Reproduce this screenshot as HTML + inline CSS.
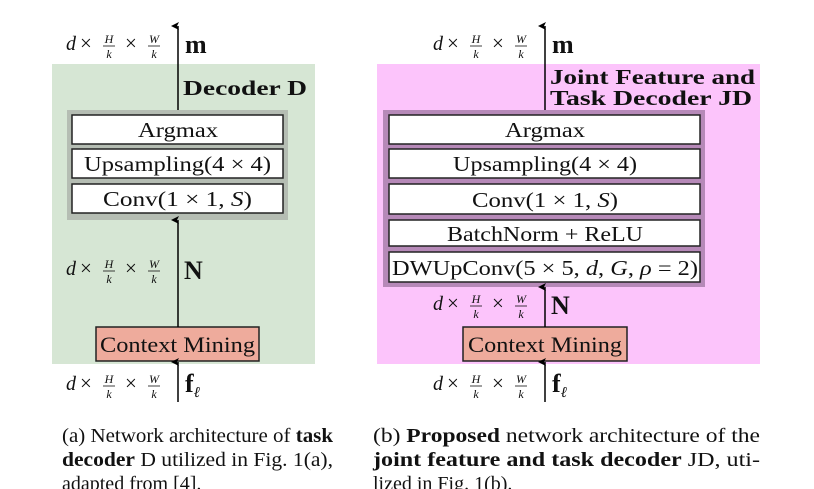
<!DOCTYPE html>
<html><head><meta charset="utf-8"><style>
html,body{margin:0;padding:0;background:#fff;width:814px;height:489px;overflow:hidden}
svg{display:block}
text{font-family:"Liberation Serif",serif;fill:#111}
.b{font-weight:bold}
</style></head><body>
<svg width="814" height="489" viewBox="0 0 814 489">
<defs>
<marker id="ah" markerWidth="8" markerHeight="8" refX="4" refY="7" orient="auto" markerUnits="userSpaceOnUse">
<path d="M0,8 L4,0 L8,8 L4,6 Z" fill="#000"/>
</marker>
<g id="lbl">
<text x="0" y="0" font-size="20" font-style="italic">d</text>
<text x="14" y="0" font-size="21">×</text>
<text x="43" y="-7" font-size="12" font-style="italic" text-anchor="middle">H</text>
<line x1="37" y1="-4" x2="49" y2="-4" stroke="#111" stroke-width="0.8"/>
<text x="43" y="8" font-size="12" font-style="italic" text-anchor="middle">k</text>
<text x="59" y="0" font-size="21">×</text>
<text x="88" y="-7" font-size="12" font-style="italic" text-anchor="middle">W</text>
<line x1="82" y1="-4" x2="94" y2="-4" stroke="#111" stroke-width="0.8"/>
<text x="88" y="8" font-size="12" font-style="italic" text-anchor="middle">k</text>
</g>
</defs>

<!-- Left panel -->
<rect x="52" y="64" width="263" height="300" fill="#d6e6d4"/>
<rect x="67" y="110" width="221" height="110" fill="#b5bdb3"/>
<rect x="72" y="115" width="211" height="29" fill="#fff" stroke="#222" stroke-width="1.5"/>
<rect x="72" y="149" width="211" height="29" fill="#fff" stroke="#222" stroke-width="1.5"/>
<rect x="72" y="184" width="211" height="29" fill="#fff" stroke="#222" stroke-width="1.5"/>
<text x="138" y="137" font-size="21" textLength="80" lengthAdjust="spacingAndGlyphs">Argmax</text>
<text x="84" y="171" font-size="21" textLength="187" lengthAdjust="spacingAndGlyphs">Upsampling(4 × 4)</text>
<text x="103" y="206" font-size="21" textLength="149" lengthAdjust="spacingAndGlyphs">Conv(1 × 1, <tspan font-style="italic">S</tspan>)</text>
<rect x="96" y="327" width="163" height="34" fill="#eeab9c" stroke="#222" stroke-width="1.5"/>
<text x="100" y="352" font-size="22" textLength="155" lengthAdjust="spacingAndGlyphs">Context Mining</text>
<line x1="178" y1="110" x2="178" y2="26" stroke="#000" stroke-width="1.5" marker-end="url(#ah)"/>
<line x1="178" y1="327" x2="178" y2="220" stroke="#000" stroke-width="1.5" marker-end="url(#ah)"/>
<line x1="178" y1="402" x2="178" y2="362" stroke="#000" stroke-width="1.5" marker-end="url(#ah)"/>
<text x="183" y="95" font-size="21" class="b" textLength="124" lengthAdjust="spacingAndGlyphs">Decoder D</text>
<use href="#lbl" x="66" y="50"/>
<text x="185" y="53" font-size="26" class="b">m</text>
<use href="#lbl" x="66" y="275"/>
<text x="184" y="279" font-size="26" class="b">N</text>
<use href="#lbl" x="66" y="390"/>
<text x="185" y="392" font-size="26" class="b">f<tspan font-size="15" font-style="italic" font-weight="normal" dy="5">ℓ</tspan></text>

<!-- Right panel -->
<rect x="377" y="64" width="383" height="300" fill="#fcc4fb"/>
<rect x="383" y="110" width="322" height="177" fill="#b689b8"/>
<rect x="389" y="115" width="311" height="29" fill="#fff" stroke="#222" stroke-width="1.5"/>
<rect x="389" y="149" width="311" height="29" fill="#fff" stroke="#222" stroke-width="1.5"/>
<rect x="389" y="184" width="311" height="30" fill="#fff" stroke="#222" stroke-width="1.5"/>
<rect x="389" y="220" width="311" height="26" fill="#fff" stroke="#222" stroke-width="1.5"/>
<rect x="389" y="252" width="311" height="30" fill="#fff" stroke="#222" stroke-width="1.5"/>
<text x="505" y="137" font-size="21" textLength="80" lengthAdjust="spacingAndGlyphs">Argmax</text>
<text x="453" y="171" font-size="21" textLength="184" lengthAdjust="spacingAndGlyphs">Upsampling(4 × 4)</text>
<text x="472" y="207" font-size="21" textLength="146" lengthAdjust="spacingAndGlyphs">Conv(1 × 1, <tspan font-style="italic">S</tspan>)</text>
<text x="447" y="241" font-size="21" textLength="196" lengthAdjust="spacingAndGlyphs">BatchNorm + ReLU</text>
<text x="392" y="275" font-size="21" textLength="306" lengthAdjust="spacingAndGlyphs">DWUpConv(5 × 5, <tspan font-style="italic">d</tspan>, <tspan font-style="italic">G</tspan>, <tspan font-style="italic">ρ</tspan> = 2)</text>
<rect x="463" y="327" width="164" height="34" fill="#eeab9c" stroke="#222" stroke-width="1.5"/>
<text x="468" y="352" font-size="22" textLength="154" lengthAdjust="spacingAndGlyphs">Context Mining</text>
<line x1="545" y1="110" x2="545" y2="26" stroke="#000" stroke-width="1.5" marker-end="url(#ah)"/>
<line x1="545" y1="327" x2="545" y2="287" stroke="#000" stroke-width="1.5" marker-end="url(#ah)"/>
<line x1="545" y1="402" x2="545" y2="362" stroke="#000" stroke-width="1.5" marker-end="url(#ah)"/>
<text x="550" y="84" font-size="21" class="b" textLength="205" lengthAdjust="spacingAndGlyphs">Joint Feature and</text>
<text x="550" y="105" font-size="21" class="b" textLength="202" lengthAdjust="spacingAndGlyphs">Task Decoder JD</text>
<use href="#lbl" x="433" y="50"/>
<text x="552" y="53" font-size="26" class="b">m</text>
<use href="#lbl" x="433" y="310"/>
<text x="551" y="314" font-size="26" class="b">N</text>
<use href="#lbl" x="433" y="390"/>
<text x="552" y="392" font-size="26" class="b">f<tspan font-size="15" font-style="italic" font-weight="normal" dy="5">ℓ</tspan></text>

<!-- Captions -->
<text x="62" y="442" font-size="20" textLength="271" lengthAdjust="spacingAndGlyphs">(a) Network architecture of <tspan class="b">task</tspan></text>
<text x="62" y="466" font-size="20" textLength="271" lengthAdjust="spacingAndGlyphs"><tspan class="b">decoder</tspan> D utilized in Fig. 1(a),</text>
<text x="62" y="490" font-size="20">adapted from [4].</text>
<text x="373" y="442" font-size="20" textLength="387" lengthAdjust="spacingAndGlyphs">(b) <tspan class="b">Proposed</tspan> network architecture of the</text>
<text x="373" y="466" font-size="20" textLength="387" lengthAdjust="spacingAndGlyphs"><tspan class="b">joint feature and task decoder</tspan> JD, uti-</text>
<text x="373" y="490" font-size="20">lized in Fig. 1(b).</text>
</svg>
</body></html>
